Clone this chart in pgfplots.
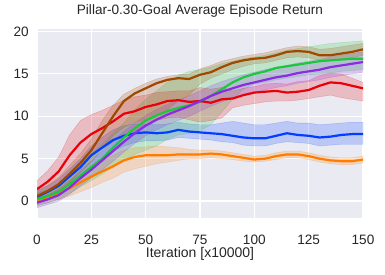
\documentclass[border=0pt]{standalone}
\usepackage{pgfplots}
\pgfplotsset{compat=1.18}
\usepackage{pgfplotstable}
\usepgfplotslibrary{fillbetween}
\usepackage{fontspec}
\setmainfont{Liberation Sans}
\definecolor{sbblue}{HTML}{023EFF}
\definecolor{sborange}{HTML}{FF7C00}
\definecolor{sbgreen}{HTML}{1AC938}
\definecolor{sbred}{HTML}{E8000B}
\definecolor{sbpurple}{HTML}{8B2BE2}
\definecolor{sbbrown}{HTML}{9F4800}
\definecolor{bg}{HTML}{EAEAF2}
\definecolor{txt}{HTML}{262626}

\pgfplotstableread{
x m lo hi
0 1.4 0.5 2.4
5 2.3 1.2 3.6
10 3.5 2.2 5.2
15 5.4 3.2 7.8
20 6.9 4.3 9.5
25 7.9 5.5 10.2
30 8.6 6.2 10.7
35 9.4 7.0 11.3
40 10.3 7.8 11.9
45 10.6 8.3 12.3
50 11.1 8.8 12.5
55 11.4 9.5 12.8
60 11.8 9.8 12.9
65 11.9 9.9 13.0
70 11.7 9.6 13.0
75 11.8 9.3 13.4
80 11.6 9.5 13.2
85 12.0 9.8 13.4
90 12.1 11.0 13.0
95 12.5 11.3 13.3
100 12.8 11.5 13.5
105 12.9 11.7 13.8
110 13.0 11.8 13.9
115 12.8 11.8 13.8
120 12.9 11.9 14.1
125 13.1 12.1 14.2
130 13.6 12.3 14.8
135 14.0 12.5 15.1
140 13.9 12.2 15.0
145 13.6 12.0 14.5
150 13.3 11.8 14.0
}\redT

\pgfplotstableread{
x m lo hi
0 0.6 0.0 1.2
5 1.2 0.5 1.9
10 2.0 1.2 2.8
15 3.2 2.2 4.2
20 4.5 3.4 5.6
25 6.0 4.6 7.3
30 8.0 6.2 9.5
35 10.0 7.7 11.3
40 11.8 8.7 12.6
45 12.7 9.3 13.3
50 13.3 9.6 13.9
55 13.9 10.0 14.4
60 14.3 10.8 14.7
65 14.5 11.8 14.9
70 14.4 12.5 15.0
75 14.9 13.8 15.6
80 15.2 14.5 16.0
85 15.8 15.0 16.5
90 16.3 15.5 16.8
95 16.6 15.9 17.1
100 16.8 16.2 17.3
105 16.9 16.3 17.5
110 17.2 16.6 17.8
115 17.6 16.9 18.1
120 17.7 17.0 18.3
125 17.6 16.9 18.2
130 17.2 16.6 17.9
135 17.2 16.6 18.0
140 17.4 16.7 18.2
145 17.6 16.9 18.4
150 17.9 17.2 18.6
}\brownT

\pgfplotstableread{
x m lo hi
0 0.2 -0.6 1.0
5 0.6 -0.2 1.4
10 1.1 0.2 2.0
15 2.0 0.9 3.1
20 3.0 1.7 4.3
25 4.0 2.4 5.6
30 5.0 3.2 6.7
35 6.3 4.0 8.0
40 7.5 4.8 9.2
45 8.6 5.5 10.8
50 9.5 6.0 12.0
55 10.1 6.5 13.0
60 10.6 7.3 14.0
65 11.0 7.8 14.8
70 11.3 8.0 15.3
75 11.7 8.3 15.5
80 12.4 9.0 15.8
85 13.2 10.5 16.2
90 14.0 12.0 16.5
95 14.6 13.2 16.8
100 15.0 13.8 17.0
105 15.3 14.0 17.2
110 15.7 14.3 17.5
115 15.9 14.5 17.8
120 16.1 14.7 18.0
125 16.3 14.9 18.2
130 16.5 15.0 18.4
135 16.6 15.1 18.6
140 16.7 15.3 18.7
145 16.8 15.4 18.8
150 16.8 15.5 18.9
}\greenT

\pgfplotstableread{
x m lo hi
0 -0.2 -0.8 0.4
5 0.2 -0.4 0.8
10 0.7 0.0 1.4
15 1.6 0.8 2.4
20 2.7 1.8 3.6
25 3.7 2.7 4.7
30 4.8 3.7 5.9
35 5.9 4.7 7.1
40 7.0 5.8 8.2
45 8.0 6.8 9.2
50 8.9 7.7 10.1
55 9.6 8.4 10.8
60 10.2 9.0 11.4
65 10.7 9.5 11.9
70 11.2 10.0 12.4
75 11.8 10.6 13.0
80 12.4 11.2 13.6
85 12.9 11.7 14.1
90 13.3 12.1 14.5
95 13.7 12.5 14.9
100 14.0 12.8 15.2
105 14.3 13.1 15.5
110 14.6 13.4 15.8
115 14.8 13.6 16.0
120 15.1 13.9 16.3
125 15.3 14.1 16.5
130 15.5 14.3 16.7
135 15.8 14.6 17.0
140 16.0 14.8 17.2
145 16.2 15.0 17.4
150 16.4 15.2 17.6
}\purpleT

\pgfplotstableread{
x m lo hi
0 0.5 -0.2 1.2
5 1.1 0.4 1.8
10 1.8 1.0 2.6
15 2.9 2.0 3.8
20 4.0 3.0 5.0
25 5.4 4.2 6.5
30 6.3 5.0 7.5
35 7.2 5.9 8.4
40 7.7 6.5 8.9
45 8.0 6.9 9.1
50 8.1 7.1 9.1
55 8.0 7.1 9.0
60 8.1 7.2 9.1
65 8.4 7.5 9.3
70 8.2 7.4 9.1
75 8.1 7.3 9.0
80 8.0 7.2 9.0
85 7.9 7.0 9.2
90 7.7 6.9 9.4
95 7.5 6.6 9.2
100 7.4 6.5 9.0
105 7.4 6.5 9.0
110 7.7 6.8 9.2
115 8.0 7.0 9.4
120 7.8 6.9 9.2
125 7.7 6.8 9.2
130 7.5 6.5 9.0
135 7.6 6.6 9.1
140 7.8 6.7 9.2
145 7.9 6.7 9.3
150 7.9 6.7 9.3
}\blueT

\pgfplotstableread{
x m lo hi
0 0.1 -0.5 0.7
5 0.4 -0.2 1.0
10 0.9 0.2 1.7
15 1.5 0.6 2.5
20 2.2 1.1 3.3
25 2.9 1.6 4.1
30 3.5 2.2 4.8
35 4.1 2.7 5.4
40 4.8 3.4 6.0
45 5.2 3.8 6.3
50 5.4 4.1 6.4
55 5.4 4.4 6.5
60 5.4 4.6 6.4
65 5.5 4.8 6.3
70 5.5 5.0 6.1
75 5.5 5.0 6.0
80 5.6 5.1 6.0
85 5.5 5.0 5.9
90 5.3 4.9 5.7
95 5.1 4.7 5.5
100 4.9 4.6 5.3
105 5.0 4.7 5.4
110 5.3 4.9 5.7
115 5.5 5.1 5.9
120 5.5 5.1 5.9
125 5.3 4.9 5.7
130 5.0 4.6 5.4
135 4.8 4.4 5.2
140 4.7 4.3 5.1
145 4.7 4.3 5.1
150 4.9 4.5 5.3
}\orangeT

\newcommand{\band}[2]{%
  \addplot[draw=none, name path=lo#1, forget plot] table[x=x, y=lo] {#2};
  \addplot[draw=none, name path=hi#1, forget plot] table[x=x, y=hi] {#2};
  \addplot[fill=#1, fill opacity=0.2, draw=#1, draw opacity=0.25, forget plot] fill between[of=lo#1 and hi#1];
}

\begin{document}
\begin{tikzpicture}[font=\fontsize{13.6bp}{16bp}\selectfont, text=txt]
\begin{axis}[
  at={(0,0)}, anchor=south west,
  scale only axis,
  width=326bp, height=189bp,
  xmin=0, xmax=150, ymin=-2, ymax=20.3,
  xtick={0,25,...,150}, ytick={0,5,...,20},
  axis background/.style={fill=bg},
  axis line style={draw=none},
  major tick length=0pt,
  grid=major,
  major grid style={white, line width=1.1bp},
  /pgf/number format/assume math mode=true,
  ticklabel style={font=\fontsize{13.6bp}{16bp}\selectfont, text=txt},
  xticklabel style={anchor=base, yshift=-26bp},
  yticklabel style={anchor=east, inner sep=0pt, xshift=-8bp},
  title={Pillar-0.30-Goal Average Episode Return},
  title style={font=\fontsize{13.6bp}{16bp}\selectfont, text=txt, at={(0.5,1)}, anchor=base, yshift=9bp},
  xlabel={Iteration [x10000]},
  xlabel style={font=\fontsize{14bp}{16bp}\selectfont, text=txt, at={(0.5,0)}, anchor=base, yshift=-39bp},
  clip=true,
]
\band{sbblue}{\blueT}
\band{sborange}{\orangeT}
\band{sbgreen}{\greenT}
\band{sbred}{\redT}
\band{sbpurple}{\purpleT}
\band{sbbrown}{\brownT}
\addplot[sbblue, line width=2.2bp] table[x=x, y=m] {\blueT};
\addplot[sborange, line width=2.2bp] table[x=x, y=m] {\orangeT};
\addplot[sbgreen, line width=2.2bp] table[x=x, y=m] {\greenT};
\addplot[sbred, line width=2.2bp] table[x=x, y=m] {\redT};
\addplot[sbpurple, line width=2.2bp] table[x=x, y=m] {\purpleT};
\addplot[sbbrown, line width=2.2bp] table[x=x, y=m] {\brownT};
\end{axis}
\pgfresetboundingbox
\useasboundingbox (-37bp,-57bp) rectangle (348bp,218bp);
\end{tikzpicture}
\end{document}
